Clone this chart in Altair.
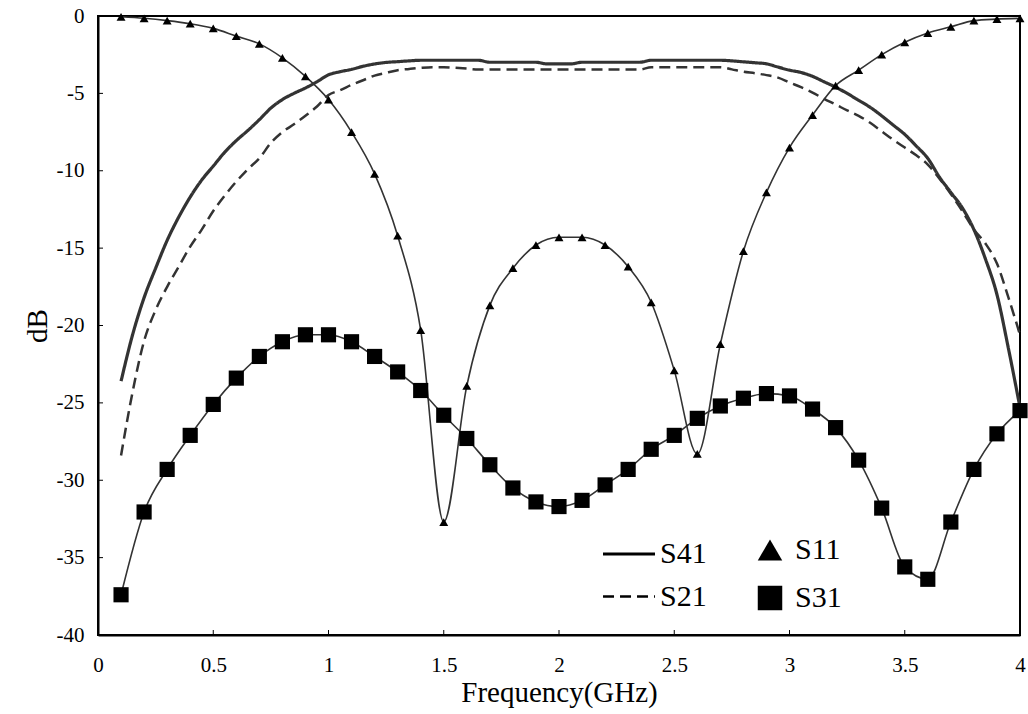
import altair as alt
import pandas as pd

# Frequencies (GHz) sampled every 0.05 for the through/coupled responses
f_dense = [round(0.10 + 0.05 * i, 2) for i in range(79)]

s41 = [-23.6, -20.6, -18.2, -16.3, -14.5, -13.0, -11.7, -10.6, -9.7, -8.8,
       -8.05, -7.4, -6.7, -5.95, -5.4, -5.0, -4.65, -4.25, -3.8, -3.6,
       -3.45, -3.25, -3.1, -3.0, -2.95, -2.9, -2.86, -2.86, -2.86, -2.86,
       -2.86, -2.86, -2.99, -2.99, -2.99, -2.99, -2.99, -3.1, -3.1, -3.1,
       -2.99, -2.99, -2.99, -2.99, -2.99, -2.99, -2.86, -2.86, -2.86, -2.86,
       -2.86, -2.86, -2.86, -2.9, -2.96, -3.02, -3.09, -3.3, -3.5, -3.65,
       -3.9, -4.25, -4.6, -5.0, -5.45, -5.9, -6.45, -7.05, -7.65, -8.4,
       -9.2, -10.4, -11.4, -12.4, -13.8, -15.7, -18.0, -21.5, -25.3]

s21 = [-28.4, -24.3, -21.0, -19.0, -17.5, -16.2, -14.9, -13.8, -12.6, -11.6,
       -10.7, -9.9, -9.2, -8.2, -7.5, -7.0, -6.45, -5.85, -5.1, -4.8,
       -4.45, -4.15, -3.85, -3.67, -3.5, -3.42, -3.35, -3.31, -3.31, -3.35,
       -3.4, -3.46, -3.46, -3.46, -3.46, -3.46, -3.46, -3.46, -3.46, -3.46,
       -3.46, -3.46, -3.46, -3.46, -3.46, -3.46, -3.31, -3.31, -3.31, -3.31,
       -3.31, -3.31, -3.31, -3.45, -3.6, -3.7, -3.82, -3.98, -4.3, -4.6,
       -4.95, -5.35, -5.72, -6.1, -6.45, -6.9, -7.45, -8.0, -8.5, -9.0,
       -9.6, -10.5, -11.5, -12.6, -13.8, -14.7, -16.0, -18.2, -20.6]

# Frequencies (GHz) sampled every 0.1 for the marked responses
f_marked = [round(0.1 * i, 1) for i in range(1, 41)]

s11 = [-0.05, -0.15, -0.3, -0.5, -0.8, -1.3, -1.8, -2.7, -3.9, -5.4,
       -7.5, -10.2, -14.2, -20.3, -32.7, -23.9, -18.7, -16.3, -14.8, -14.3,
       -14.3, -14.8, -16.2, -18.5, -22.9, -28.3, -21.2, -15.2, -11.4, -8.5,
       -6.4, -4.5, -3.5, -2.5, -1.7, -1.1, -0.7, -0.3, -0.2, -0.15]

s31 = [-37.4, -32.05, -29.3, -27.1, -25.1, -23.4, -22.0, -21.05, -20.6, -20.6,
       -21.05, -22.0, -23.0, -24.2, -25.8, -27.3, -29.0, -30.5, -31.4, -31.7,
       -31.3, -30.3, -29.3, -28.0, -27.1, -26.0, -25.2, -24.7, -24.4, -24.55,
       -25.4, -26.6, -28.7, -31.8, -35.6, -36.4, -32.7, -29.3, -27.0, -25.5]

x_ticks = [0, 0.5, 1, 1.5, 2, 2.5, 3, 3.5, 4]
y_ticks = [-40, -35, -30, -25, -20, -15, -10, -5, 0]

W, H = 922, 619
FONT = "'Times New Roman', 'Liberation Serif', serif"
INK = "#333333"

lines_df = pd.DataFrame(
    {"f": f_dense * 2,
     "dB": s41 + s21,
     "series": ["S41"] * len(s41) + ["S21"] * len(s21)}
)
marked_df = pd.DataFrame(
    {"f": f_marked * 2,
     "dB": s11 + s31,
     "series": ["S11"] * len(s11) + ["S31"] * len(s31)}
)

x_scale = alt.Scale(domain=[0, 4], nice=False)
y_scale = alt.Scale(domain=[-40, 0], nice=False)

axis_common = dict(
    ticks=False, grid=False, labelFontSize=21, titleFontSize=29,
    labelFont=FONT, titleFont=FONT, titleFontWeight="normal",
    labelColor="black", titleColor="black", domainColor="black",
    domainWidth=2, labelFlush=False, labelExpr="'' + datum.value",
)

x_enc = alt.X("f:Q", scale=x_scale, title="Frequency(GHz)",
              axis=alt.Axis(values=x_ticks, labelPadding=19, titlePadding=3,
                            **axis_common))
y_enc = alt.Y("dB:Q", scale=y_scale, title="dB",
              axis=alt.Axis(values=y_ticks, labelPadding=14, titlePadding=4,
                            **axis_common))

legend_common = dict(
    orient="none", title=None, labelFont=FONT, labelFontSize=30,
    labelColor="black",
)

through = alt.Chart(lines_df).mark_line(color=INK, interpolate="monotone").encode(
    x=x_enc,
    y=y_enc,
    strokeDash=alt.StrokeDash(
        "series:N",
        scale=alt.Scale(domain=["S41", "S21"], range=[[1, 0], [11, 6]]),
        legend=alt.Legend(legendX=503, legendY=510, symbolType="stroke",
                          symbolSize=2700, symbolStrokeWidth=3,
                          symbolStrokeColor="black", rowPadding=-4,
                          labelOffset=3, **legend_common),
    ),
    strokeWidth=alt.StrokeWidth(
        "series:N",
        scale=alt.Scale(domain=["S41", "S21"], range=[3.2, 2.5]),
        legend=None,
    ),
)

marked_lines = alt.Chart(marked_df).mark_line(
    color=INK, strokeWidth=1.6, interpolate="monotone"
).encode(x="f:Q", y="dB:Q", detail="series:N")

markers = alt.Chart(marked_df).mark_point(
    filled=True, opacity=1, size=80, color="black"
).encode(
    x="f:Q",
    y="dB:Q",
    shape=alt.Shape(
        "series:N",
        scale=alt.Scale(domain=["S11", "S31"], range=["triangle-up", "square"]),
        legend=alt.Legend(legendX=657, legendY=519, symbolSize=600,
                          symbolFillColor="black", symbolStrokeColor="black",
                          symbolStrokeWidth=0, rowPadding=18, labelOffset=10,
                          **legend_common),
    ),
)

# The S31 squares are drawn larger than the triangles
squares = alt.Chart(marked_df).transform_filter(
    alt.datum.series == "S31"
).mark_square(size=230, color="black", opacity=1).encode(x="f:Q", y="dB:Q")

# Inward tick marks along the bottom and left edges
x_tick_marks = alt.Chart(pd.DataFrame({"t": x_ticks})).mark_rule(
    color="black", strokeWidth=1
).encode(x=alt.X("t:Q", scale=x_scale), y=alt.value(H - 5), y2=alt.value(H))

y_tick_marks = alt.Chart(pd.DataFrame({"t": y_ticks})).mark_rule(
    color="black", strokeWidth=1
).encode(y=alt.Y("t:Q", scale=y_scale), x=alt.value(0), x2=alt.value(5))

chart = (
    alt.layer(through, marked_lines, markers, squares, x_tick_marks, y_tick_marks)
    .properties(
        width=W, height=H,
        autosize=alt.AutoSizeParams(type="none"),
        padding={"left": 98, "top": 16, "right": 8, "bottom": 79},
        background="white",
    )
    .configure(font=FONT)
    .configure_view(stroke="black", strokeWidth=2)
)

chart.save("out.html", embed_options={"renderer": "svg", "actions": False})
